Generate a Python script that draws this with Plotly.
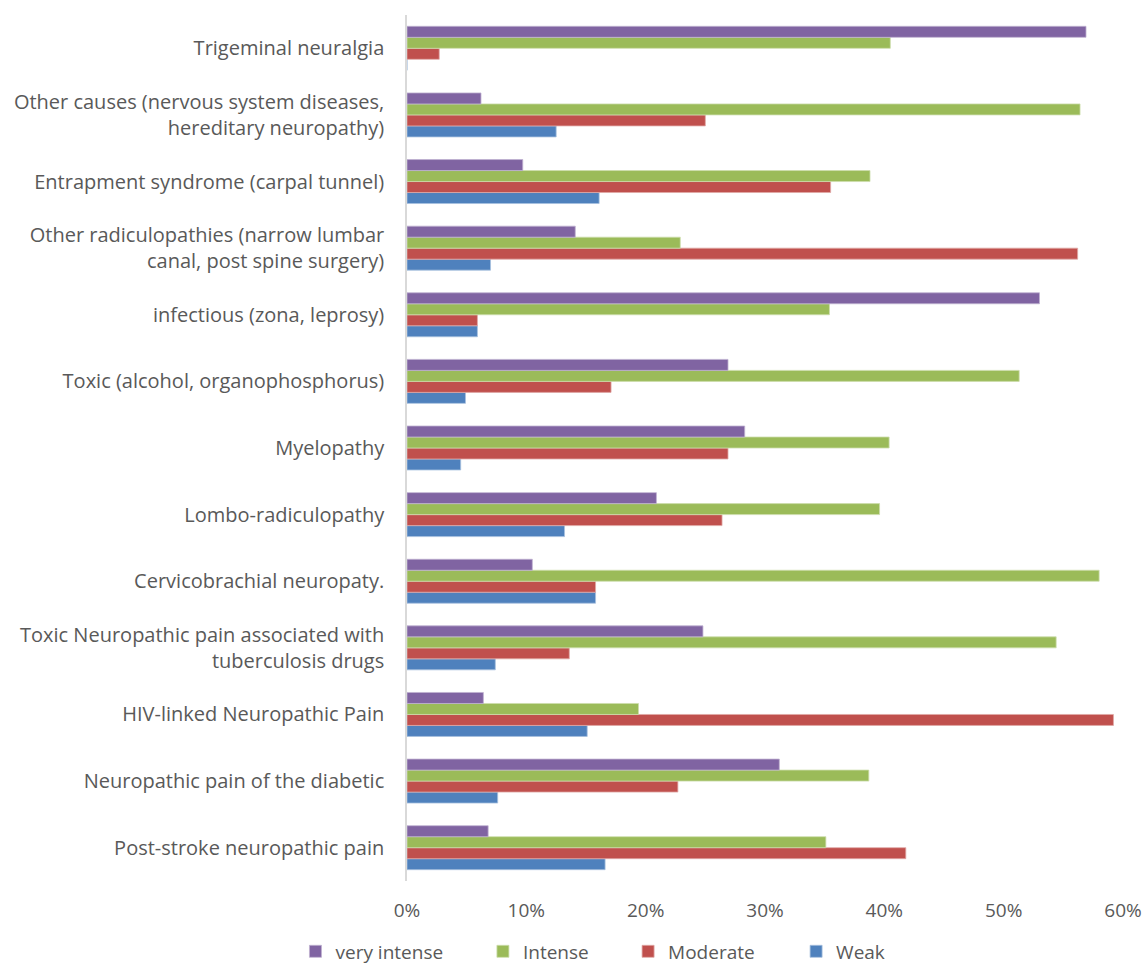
import plotly.graph_objects as go

categories = [
    "Post-stroke neuropathic pain",
    "Neuropathic pain of the diabetic",
    "HIV-linked Neuropathic Pain",
    "Toxic Neuropathic pain associated with<br>tuberculosis drugs",
    "Cervicobrachial neuropaty.",
    "Lombo-radiculopathy",
    "Myelopathy",
    "Toxic (alcohol, organophosphorus)",
    "infectious (zona, leprosy)",
    "Other radiculopathies (narrow lumbar<br>canal, post spine surgery)",
    "Entrapment syndrome (carpal tunnel)",
    "Other causes (nervous system diseases,<br>hereditary neuropathy)",
    "Trigeminal neuralgia",
]

weak = [16.6, 7.6, 15.1, 7.4, 15.8, 13.2, 4.5, 4.9, 5.9, 7.0, 16.1, 12.5, 0.0]
moderate = [41.8, 22.7, 59.2, 13.6, 15.8, 26.4, 26.9, 17.1, 5.9, 56.2, 35.5, 25.0, 2.7]
intense = [35.1, 38.7, 19.4, 54.4, 58.0, 39.6, 40.4, 51.3, 35.4, 22.9, 38.8, 56.4, 40.5]
very_intense = [6.8, 31.2, 6.4, 24.8, 10.5, 20.9, 28.3, 26.9, 53.0, 14.1, 9.7, 6.2, 56.9]

# (name, values, fill, edge, legend id, legend x in container fraction)
series = [
    ("Weak", weak, "#4F81BD", "#A7C0DE", "legend4", 0.6965),
    ("Moderate", moderate, "#C0504D", "#DFA8A6", "legend3", 0.5495),
    ("Intense", intense, "#9BBB59", "#CDDDAC", "legend2", 0.4225),
    ("very intense", very_intense, "#8064A2", "#BFB1D0", "legend", 0.2585),
]

fig = go.Figure()
for name, vals, color, edge, leg, _ in series:
    fig.add_trace(go.Bar(
        y=categories,
        x=[v / 100 for v in vals],
        name=name,
        orientation="h",
        legend=leg,
        showlegend=True,
        marker=dict(color=color, line=dict(color=edge, width=0.8)),
    ))

font_family = "Open Sans, Liberation Sans, sans-serif"
legend_common = dict(
    orientation="h",
    xref="container", yref="container",
    xanchor="left",
    y=0.013, yanchor="middle",
    font=dict(size=19, color="#595959"),
    bgcolor="rgba(0,0,0,0)",
)
legends = {}
for name, vals, color, edge, leg, lx in series:
    legends[leg] = dict(legend_common, x=lx)

fig.update_layout(
    showlegend=True,
    barmode="group",
    bargap=0.34,
    bargroupgap=0,
    width=1143,
    height=964,
    plot_bgcolor="white",
    paper_bgcolor="white",
    margin=dict(l=407, r=20, t=15, b=83),
    font=dict(family=font_family, size=20, color="#595959"),
    xaxis=dict(
        range=[0, 0.6],
        dtick=0.1,
        tickformat=".0%",
        tickfont=dict(size=19),
        showgrid=False,
        zeroline=False,
        showline=False,
        ticks="",
        ticklabelstandoff=16,
        automargin=False,
    ),
    yaxis=dict(
        showgrid=False,
        zeroline=False,
        showline=True,
        linecolor="#D9D9D9",
        linewidth=1.5,
        ticks="",
        tickfont=dict(size=20),
        ticklabelstandoff=17,
        automargin=False,
    ),
    **legends,
)

fig.write_html("out.html")
